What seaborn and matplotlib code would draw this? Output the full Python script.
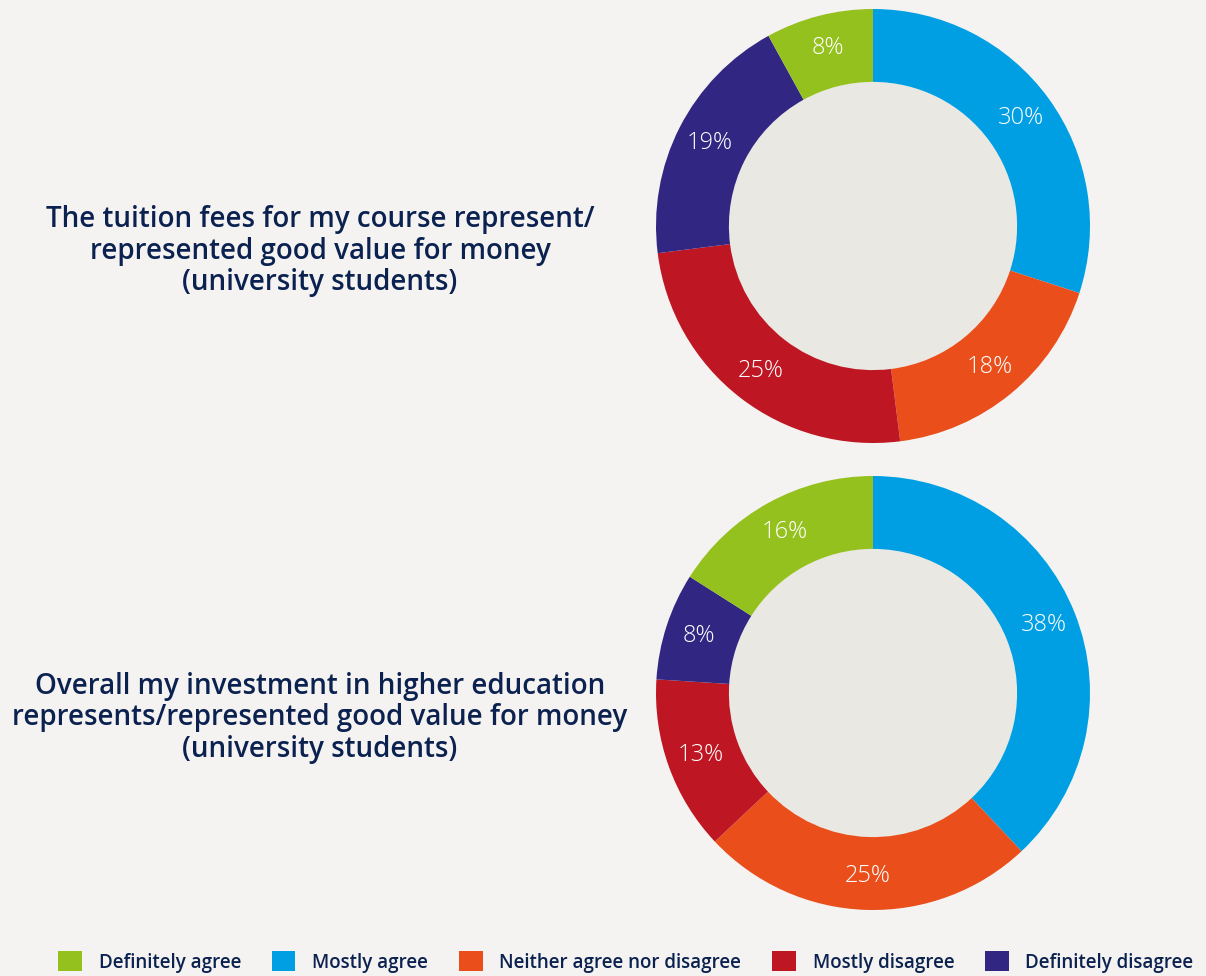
import matplotlib
matplotlib.use("Agg")
import matplotlib.pyplot as plt
import seaborn as sns
from matplotlib.patches import Circle, Patch

# data
categories = ["Mostly agree", "Neither agree nor disagree", "Mostly disagree",
              "Definitely disagree", "Definitely agree"]
tuition_values = [30, 18, 25, 19, 8]
investment_values = [38, 25, 13, 8, 16]
titles = [
    "The tuition fees for my course represent/\nrepresented good value for money\n(university students)",
    "Overall my investment in higher education\nrepresents/represented good value for money\n(university students)",
]
legend_order = ["Definitely agree", "Mostly agree", "Neither agree nor disagree",
                "Mostly disagree", "Definitely disagree"]

colors = {
    "Definitely agree": "#95C11F",
    "Mostly agree": "#009FE3",
    "Neither agree nor disagree": "#E94E1B",
    "Mostly disagree": "#BE1622",
    "Definitely disagree": "#312783",
}
BG = "#F5F3F1"
INNER = "#EAE8E3"
NAVY = "#0B2250"

sns.set_style("white")
plt.rcParams["font.family"] = ["Open Sans", "DejaVu Sans"]

fig = plt.figure(figsize=(12.06, 9.76), dpi=100, facecolor=BG)

W, H = 1206, 976
R = 217
hole = 0.664
centers = [(873, 226), (873, 693)]
title_y = [251, 718]

for (cx, cy), vals, title, ty in zip(centers, [tuition_values, investment_values], titles, title_y):
    ax = fig.add_axes([(cx - R) / W, (H - cy - R) / H, 2 * R / W, 2 * R / H])
    ax.set_facecolor(BG)
    wedges, texts, autotexts = ax.pie(
        vals,
        colors=[colors[c] for c in categories],
        startangle=90,
        counterclock=False,
        radius=1.0,
        autopct="%d%%",
        pctdistance=0.845,
        wedgeprops=dict(width=1 - hole, linewidth=0),
        textprops=dict(color="white", fontsize=17, fontfamily="Open Sans", fontweight="light"),
    )
    ax.add_patch(Circle((0, 0), hole, facecolor=INNER, edgecolor="none", zorder=0.5))
    ax.set_xlim(-1, 1)
    ax.set_ylim(-1, 1)
    ax.set_aspect("equal")
    ax.axis("off")

    fig.text(320 / W, 1 - ty / H, title, ha="center", va="center",
             fontsize=20, color=NAVY, fontweight="semibold", linespacing=1.12)

handles = [Patch(facecolor=colors[c], edgecolor="none", label=c) for c in legend_order]
leg = fig.legend(handles=handles, loc="center", bbox_to_anchor=(626 / W, 1 - 962 / H),
                 ncol=5, frameon=False, fontsize=13.5, handlelength=1.25, handleheight=1.25,
                 handletextpad=0.9, columnspacing=1.65)
for t in leg.get_texts():
    t.set_color(NAVY)
    t.set_fontweight("semibold")

fig.savefig("out.png", dpi=100, facecolor=BG)
